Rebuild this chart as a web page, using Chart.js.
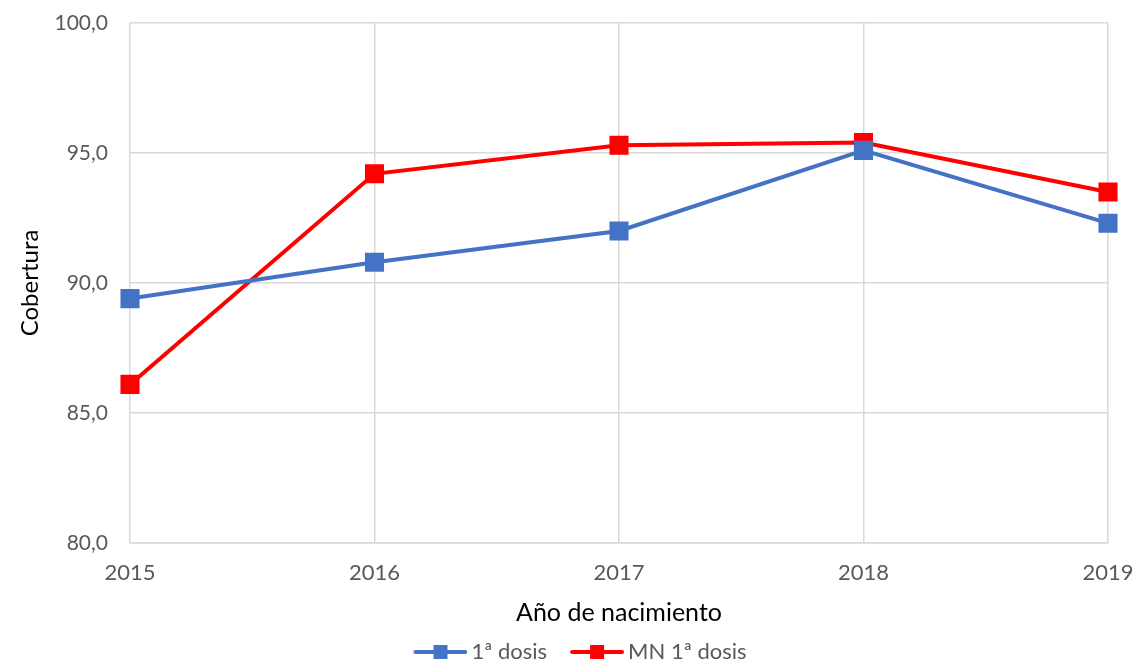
<!DOCTYPE html>
<html>
<head>
<meta charset="utf-8">
<script src="https://cdn.jsdelivr.net/npm/chart.js@4"></script>
<style>
  html, body { margin: 0; padding: 0; background: #fff; }
  #wrap { width: 1135px; height: 662px; }
</style>
</head>
<body>
<div id="wrap"><canvas id="chart"></canvas></div>
<script>
const years = ["2015", "2016", "2017", "2018", "2019"];
const dosis1 = [89.4, 90.8, 92.0, 95.1, 92.3];
const mnDosis1 = [86.1, 94.2, 95.3, 95.4, 93.5];
const yTicks = [80, 85, 90, 95, 100];

const BLUE = "#4472c4";
const RED = "#ff0000";
const TEXT = "#595959";
const FONT = "Lato, 'Open Sans', sans-serif";

// legend icon: transparent lead-in, then a short line with a square in the middle
function legendIcon(color) {
  const c = document.createElement("canvas");
  c.width = 78;
  c.height = 16;
  const ctx = c.getContext("2d");
  ctx.strokeStyle = color;
  ctx.lineWidth = 4;
  ctx.lineCap = "round";
  ctx.beginPath();
  ctx.moveTo(26, 8);
  ctx.lineTo(76, 8);
  ctx.stroke();
  ctx.fillStyle = color;
  ctx.fillRect(44, 1, 14, 14);
  return c;
}

const icons = [legendIcon(BLUE), legendIcon(RED)];

new Chart(document.getElementById("chart"), {
  type: "line",
  data: {
    labels: years,
    datasets: [
      {
        label: "1ª dosis",
        data: dosis1,
        borderColor: BLUE,
        backgroundColor: BLUE,
        borderWidth: 4,
        pointStyle: "rect",
        pointRadius: 13.5,
        pointBorderWidth: 0,
        tension: 0,
      },
      {
        label: "MN 1ª dosis",
        data: mnDosis1,
        borderColor: RED,
        backgroundColor: RED,
        borderWidth: 4,
        pointStyle: "rect",
        pointRadius: 13.5,
        pointBorderWidth: 0,
        tension: 0,
      },
    ],
  },
  options: {
    responsive: true,
    maintainAspectRatio: false,
    animation: false,
    layout: { autoPadding: false, padding: { left: 8, right: 0, top: 23, bottom: -11 } },
    plugins: {
      tooltip: { enabled: false },
      legend: {
        position: "bottom",
        labels: {
          color: TEXT,
          font: { family: FONT, size: 22 },
          usePointStyle: true,
          pointStyleWidth: 64,
          boxHeight: 16,
          padding: 6,
          generateLabels: (chart) =>
            chart.data.datasets.map((ds, i) => ({
              text: ds.label,
              fontColor: TEXT,
              pointStyle: icons[i],
              datasetIndex: i,
              hidden: false,
              lineWidth: 0,
            })),
        },
      },
    },
    scales: {
      x: {
        offset: false,
        afterFit: (axis) => {
          axis.height = 92;
          axis.paddingLeft = 0;
          axis.paddingRight = 27;
        },
        grid: { color: "#d9d9d9", lineWidth: 1.5, drawTicks: false, offset: false },
        border: { color: "#d9d9d9", width: 1.5 },
        ticks: { color: TEXT, font: { family: FONT, size: 22 }, padding: 17, maxRotation: 0 },
        title: {
          display: true,
          text: "Año de nacimiento",
          color: "#000",
          font: { family: FONT, size: 25 },
          padding: { top: 8, bottom: 7 },
        },
      },
      y: {
        min: 80,
        max: 100,
        afterBuildTicks: (axis) => {
          axis.ticks = yTicks.map((v) => ({ value: v }));
        },
        afterFit: (axis) => {
          axis.width = 122;
          axis.paddingTop = 0;
          axis.paddingBottom = 0;
        },
        grid: { color: "#d9d9d9", lineWidth: 1.5, drawTicks: false },
        border: { display: false },
        ticks: {
          color: TEXT,
          font: { family: FONT, size: 21 },
          padding: 22,
          callback: (v) => v.toFixed(1).replace(".", ","),
        },
        title: {
          display: true,
          text: "Cobertura",
          color: "#000",
          font: { family: FONT, size: 24 },
          padding: { top: 8, bottom: 0 },
        },
      },
    },
  },
});
</script>
</body>
</html>
